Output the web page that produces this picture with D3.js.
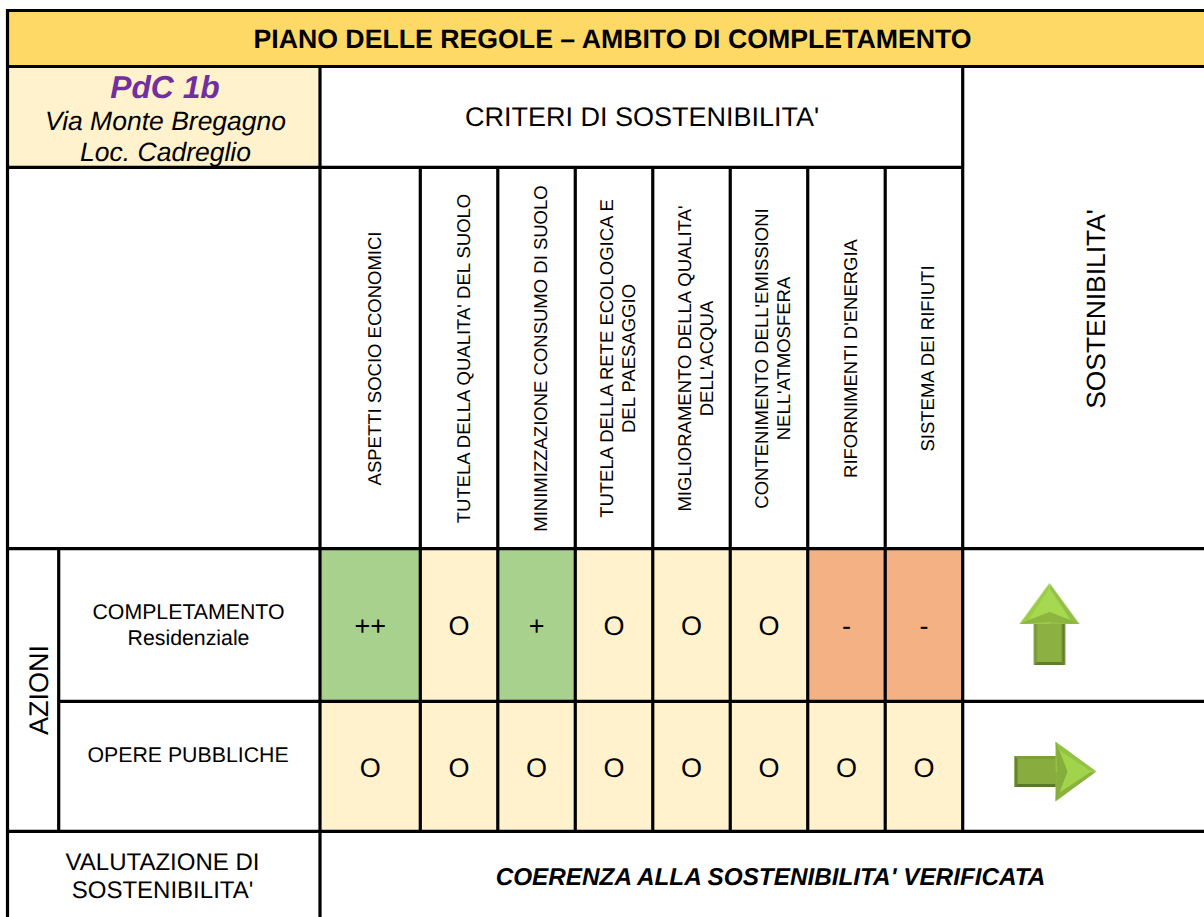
<!DOCTYPE html>
<html>
<head>
<meta charset="utf-8">
<script src="https://cdn.jsdelivr.net/npm/d3@7"></script>
<style>
  html, body { margin: 0; padding: 0; background: #fff; }
  text { font-family: "Liberation Sans", Arial, sans-serif; fill: #000; text-rendering: geometricPrecision; }
</style>
</head>
<body>
<div id="chart"></div>
<script>
const pageTitle = 'PIANO DELLE REGOLE – AMBITO DI COMPLETAMENTO';
const planName = 'PdC 1b';
const planPlace = ['Via Monte Bregagno', 'Loc. Cadreglio'];
const criteriaTitle = "CRITERI DI SOSTENIBILITA'";
const sustainabilityTitle = "SOSTENIBILITA'";
const actionsTitle = 'AZIONI';

// criteri in colonna, una riga per ogni a capo
const criteria = [
  ['ASPETTI SOCIO ECONOMICI'],
  ["TUTELA DELLA QUALITA' DEL SUOLO"],
  ['MINIMIZZAZIONE CONSUMO DI SUOLO'],
  ['TUTELA DELLA RETE ECOLOGICA E', 'DEL PAESAGGIO'],
  ["MIGLIORAMENTO DELLA QUALITA'", "DELL'ACQUA"],
  ["CONTENIMENTO DELL'EMISSIONI", "NELL'ATMOSFERA"],
  ["RIFORNIMENTI D'ENERGIA"],
  ['SISTEMA DEI RIFIUTI']
];

const actions = [['COMPLETAMENTO', 'Residenziale'], ['OPERE PUBBLICHE']];
const scores = [
  ['++', 'O', '+', 'O', 'O', 'O', '-', '-'],
  ['O', 'O', 'O', 'O', 'O', 'O', 'O', 'O']
];
const trends = ['up', 'right'];

const evaluationLabel = ['VALUTAZIONE DI', "SOSTENIBILITA'"];
const evaluationText = "COERENZA ALLA SOSTENIBILITA' VERIFICATA";

const width = 1204;
const height = 917;

const scoreColor = d3.scaleOrdinal()
  .domain(['++', '+', 'O', '-'])
  .range(['#a9d18e', '#a9d18e', '#fff2cc', '#f4b183']);

// la prima colonna e' piu' larga delle altre
const x = d3.scaleLinear().domain([0, 1, 8]).range([320, 420.3, 962.7]);
const rowY = d3.scaleLinear().domain([0, 1, 2]).range([548.7, 701.3, 831.3]);

const svg = d3.select('#chart')
  .append('svg')
  .attr('width', width)
  .attr('height', height)
  .style('display', 'block');

svg.append('defs')
  .append('filter')
  .attr('id', 'soft')
  .append('feGaussianBlur')
  .attr('stdDeviation', 0.7);

function rect(x0, y0, x1, y1, fill) {
  svg.append('rect')
    .attr('x', x0).attr('y', y0)
    .attr('width', x1 - x0).attr('height', y1 - y0)
    .attr('fill', fill);
}

function label(lines, cx, cy, size, lineHeight, opts = {}) {
  const t = svg.append('text')
    .attr('text-anchor', 'middle')
    .attr('font-size', size)
    .attr('font-weight', opts.weight || 'normal')
    .attr('font-style', opts.style || 'normal')
    .attr('transform', `translate(${cx},${cy})` + (opts.rotate ? ' rotate(-90)' : ''));
  lines.forEach((line, i) => {
    t.append('tspan')
      .attr('x', 0)
      .attr('y', (i - (lines.length - 1) / 2) * lineHeight)
      .attr('dy', '0.35em')
      .text(line);
  });
  return t;
}

// sfondi
rect(8, 11, width, 66, '#ffd966');
rect(8, 66, 320, 167, '#fff2cc');

// celle di valutazione
scores.forEach((row, r) => {
  row.forEach((score, c) => {
    rect(x(c), rowY(r), x(c + 1), rowY(r + 1), scoreColor(score));
    label([score], (x(c) + x(c + 1)) / 2, (rowY(r) + rowY(r + 1)) / 2 + 1, 27, 28);
  });
});

// griglia
const lines = [
  [7.5, 9, 7.5, 917],
  [6, 10.5, width, 10.5],
  [6, 66.5, width, 66.5],
  [6, 167.3, 964, 167.3],
  [6, rowY(0), width, rowY(0)],
  [58.7, rowY(1), width, rowY(1)],
  [6, rowY(2), width, rowY(2)],
  [58.7, rowY(0), 58.7, rowY(2)],
  [x(0), 66, x(0), 917],
  [x(8), 66, x(8), rowY(2)]
];
d3.range(1, 8).forEach(c => lines.push([x(c), 167, x(c), rowY(2)]));
svg.append('g')
  .selectAll('line')
  .data(lines)
  .join('line')
  .attr('x1', d => d[0]).attr('y1', d => d[1])
  .attr('x2', d => d[2]).attr('y2', d => d[3])
  .attr('stroke', '#000')
  .attr('stroke-width', 3.2);

// testi
label([pageTitle], 612.5, 39, 26.7, 28, { weight: 'bold' });
label([planName], 165, 86.5, 31.8, 30, { weight: 'bold', style: 'italic' }).style('fill', '#7030a0');
label(planPlace, 165.5, 136, 26.5, 31, { style: 'italic' });
label([criteriaTitle], 642, 117, 27, 28);
label([sustainabilityTitle], 1096, 309, 26.4, 30, { rotate: true });
label([actionsTitle], 39, 690, 27, 28, { rotate: true });

criteria.forEach((lns, c) => {
  label(lns, (x(c) + x(c + 1)) / 2 + 4, 358.5, 18.5, 22, { rotate: true });
});

label(actions[0], 188.5, 625, 21.3, 26);
label(actions[1], 188, 755, 21.3, 26);
label(evaluationLabel, 162.5, 876, 24, 28);
label([evaluationText], 770.5, 876, 24.3, 26, { weight: 'bold', style: 'italic' });

// frecce di sostenibilita': u lungo la freccia, v di traverso
function drawArrow(tailX, tailY, angle, colors) {
  const len = 82;
  const headLen = 41;
  const headHalf = 30;
  const bodyHalf = 15.4;
  const bevel = 3;
  const neck = len - headLen;
  const g = svg.append('g')
    .attr('transform', `translate(${tailX},${tailY}) rotate(${angle})`);
  const facets = [
    [colors.body, [[0, -bodyHalf], [neck + 1, -bodyHalf], [neck + 1, bodyHalf], [0, bodyHalf]]],
    [colors.sideA, [[0, -bodyHalf], [neck, -bodyHalf], [neck, -bodyHalf + bevel], [bevel, -bodyHalf + bevel]]],
    [colors.sideB, [[0, bodyHalf], [neck, bodyHalf], [neck, bodyHalf - bevel], [bevel, bodyHalf - bevel]]],
    [colors.tail, [[0, -bodyHalf], [bevel, -bodyHalf + bevel], [bevel, bodyHalf - bevel], [0, bodyHalf]]],
    [colors.headA, [[neck, -headHalf], [len, 0], [neck, 0]]],
    [colors.headB, [[neck, headHalf], [len, 0], [neck, 0]]],
    [colors.headIn, [[neck + 4, -headHalf + 9], [len - 5, 0], [neck + 4, headHalf - 9], [neck + 12, 0]]],
    [colors.neck, [[neck, -headHalf], [neck + 12, 0], [neck, headHalf], [neck + 2, 0]]]
  ];
  g.selectAll('path')
    .data(facets)
    .join('path')
    .attr('d', d => d3.line()(d[1]) + 'Z')
    .attr('fill', d => d[0])
    .attr('filter', 'url(#soft)');
}

const arrowStyles = {
  up: {
    tailX: 1049.5, tailY: 665, angle: -90,
    colors: { body: '#8cb142', sideA: '#76993a', sideB: '#647f2e', tail: '#5f7f2e',
      headA: '#9acb4a', headB: '#92bf45', headIn: '#a6d950', neck: '#8db53f' }
  },
  right: {
    tailX: 1014.5, tailY: 771.5, angle: 0,
    colors: { body: '#88ac3d', sideA: '#7d9f38', sideB: '#5a7829', tail: '#64852e',
      headA: '#94c244', headB: '#8ab23e', headIn: '#a2d44c', neck: '#86ae3c' }
  }
};
trends.forEach(trend => {
  const s = arrowStyles[trend];
  drawArrow(s.tailX, s.tailY, s.angle, s.colors);
});
</script>
</body>
</html>
